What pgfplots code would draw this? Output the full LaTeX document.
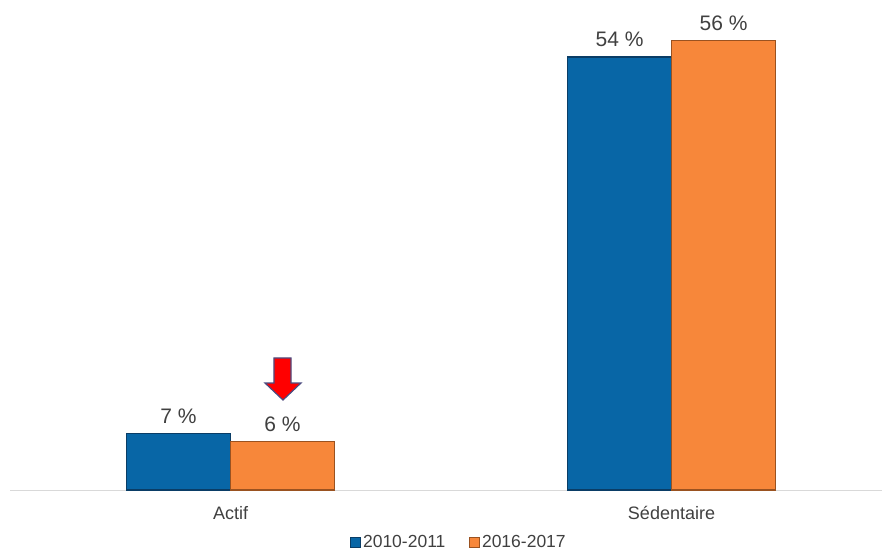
\documentclass[border=0pt]{standalone}
\usepackage{pgfplots}
\pgfplotsset{compat=1.18}
\usepackage{fontspec}
\setmainfont{Liberation Sans}
\definecolor{cblue}{HTML}{0866A6}
\definecolor{cblueedge}{HTML}{0A3D66}
\definecolor{corange}{HTML}{F7873A}
\definecolor{corangeedge}{HTML}{9A5220}
\definecolor{labgray}{HTML}{404040}
\definecolor{basegray}{HTML}{D9D9D9}
\begin{document}
\begin{tikzpicture}
\path[use as bounding box] (0pt,0pt) rectangle (882pt,552pt);
\begin{axis}[
  at={(10pt,62pt)}, anchor=south west,
  scale only axis,
  width=872pt, height=480pt,
  ybar=0pt, bar width=104pt,
  xmin=-0.5, xmax=1.4773, ymin=0, ymax=59.85,
  enlargelimits=false,
  axis x line*=bottom, axis y line=none,
  x axis line style={-, draw=basegray, line width=1pt},
  xtick={0,1}, xticklabels={Actif,Sédentaire},
  major tick length=0pt,
  xticklabel style={anchor=base, yshift=-29pt, font=\fontsize{18}{20}\selectfont, text=labgray, inner sep=0pt},
  clip=false,
  /pgf/number format/assume math mode=true,
  nodes near coords={\pgfmathprintnumber\pgfplotspointmeta~\%},
  nodes near coords style={anchor=base, inner sep=0pt, yshift=10pt, font=\fontsize{21}{24}\selectfont, text=labgray},
  legend style={at={(0.515,-0.108)}, anchor=center, draw=none, fill=none,
    legend columns=2, font=\fontsize{17.5}{19}\selectfont, text=labgray,
    /tikz/every even column/.append style={column sep=22pt},
    inner sep=0pt},
  legend image code/.code={\draw[#1, line width=0.6pt] (0pt,-5pt) rectangle (10pt,5pt);},
]
\addplot[fill=cblue, draw=cblueedge, line width=1.2pt] coordinates {(0,7) (1,54)};
\addplot[fill=corange, draw=corangeedge, line width=1.2pt] coordinates {(0,6) (1,56)};
\legend{2010-2011,2016-2017}
\draw[fill=red, draw=black!50!blue!40!gray, line width=1.2pt, line join=miter]
  (axis cs:0.0986,16.46) -- (axis cs:0.1372,16.46) -- (axis cs:0.1372,13.34)
  -- (axis cs:0.1599,13.34) -- (axis cs:0.1190,11.22) -- (axis cs:0.0782,13.34)
  -- (axis cs:0.0986,13.34) -- cycle;
\end{axis}
\end{tikzpicture}
\end{document}
